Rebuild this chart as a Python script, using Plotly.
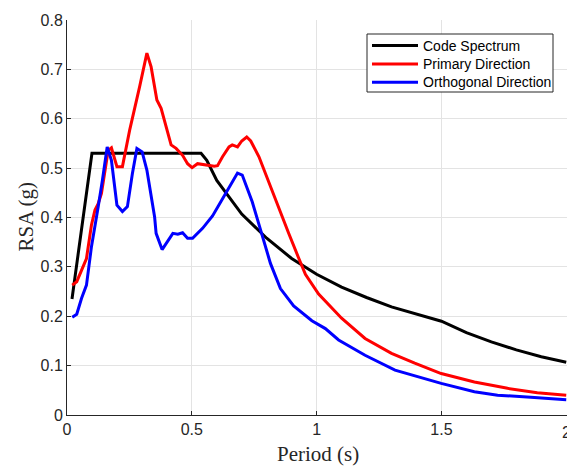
import plotly.graph_objects as go

# Code spectrum
code_T = [0.02, 0.10, 0.20, 0.30, 0.40, 0.50, 0.537, 0.56, 0.60, 0.70, 0.80, 0.90, 1.00, 1.10, 1.20, 1.30, 1.40, 1.50,
          1.60, 1.70, 1.80, 1.90, 2.00]
code_Sa = [0.235, 0.530, 0.530, 0.530, 0.530, 0.530, 0.530, 0.516, 0.475, 0.407, 0.358, 0.317, 0.285, 0.259, 0.238,
           0.219, 0.204, 0.190, 0.167, 0.148, 0.132, 0.118, 0.107]

# Primary direction
prim_T = [0.021, 0.039, 0.078, 0.098, 0.112, 0.125, 0.138, 0.165, 0.178, 0.200, 0.222, 0.251, 0.291, 0.320, 0.337,
          0.360, 0.377, 0.417, 0.437, 0.463, 0.483, 0.501, 0.523, 0.556, 0.590, 0.603, 0.623, 0.649, 0.662, 0.683,
          0.700, 0.720, 0.736, 0.769, 0.835, 0.888, 0.928, 0.955, 1.008, 1.061, 1.100, 1.194, 1.300, 1.393, 1.499,
          1.632, 1.765, 1.884, 2.000]
prim_Sa = [0.263, 0.270, 0.317, 0.385, 0.415, 0.428, 0.449, 0.536, 0.541, 0.503, 0.503, 0.577, 0.665, 0.733, 0.705,
           0.638, 0.621, 0.547, 0.540, 0.526, 0.509, 0.501, 0.509, 0.507, 0.504, 0.505, 0.523, 0.543, 0.547, 0.543,
           0.555, 0.563, 0.555, 0.523, 0.435, 0.368, 0.318, 0.285, 0.245, 0.217, 0.196, 0.155, 0.125, 0.105, 0.084,
           0.067, 0.054, 0.045, 0.040]

# Orthogonal direction
orth_T = [0.021, 0.039, 0.058, 0.078, 0.098, 0.118, 0.125, 0.142, 0.161, 0.178, 0.200, 0.222, 0.242, 0.262, 0.280,
          0.301, 0.320, 0.351, 0.357, 0.381, 0.404, 0.424, 0.444, 0.463, 0.483, 0.503, 0.543, 0.583, 0.636, 0.683,
          0.702, 0.742, 0.776, 0.815, 0.855, 0.908, 0.981, 1.035, 1.088, 1.194, 1.314, 1.406, 1.499, 1.632, 1.725,
          1.858, 2.000]
orth_Sa = [0.198, 0.204, 0.236, 0.263, 0.341, 0.395, 0.422, 0.476, 0.543, 0.516, 0.425, 0.412, 0.422, 0.489, 0.540,
           0.533, 0.496, 0.401, 0.368, 0.335, 0.354, 0.368, 0.366, 0.369, 0.358, 0.358, 0.378, 0.403, 0.449, 0.490,
           0.486, 0.432, 0.374, 0.307, 0.256, 0.221, 0.191, 0.175, 0.152, 0.121, 0.091, 0.078, 0.064, 0.047, 0.040,
           0.036, 0.031]

series_names = ["Code Spectrum", "Primary Direction", "Orthogonal Direction"]
series_colors = ["#000000", "#ff0000", "#0000ff"]

x_ticks = [0, 0.5, 1, 1.5, 2]
x_labels = ["0", "0.5", "1", "1.5", "2"]
y_ticks = [0, 0.1, 0.2, 0.3, 0.4, 0.5, 0.6, 0.7, 0.8]
y_labels = ["0", "0.1", "0.2", "0.3", "0.4", "0.5", "0.6", "0.7", "0.8"]

fig = go.Figure()
for xs, ys, name, color in zip([code_T, prim_T, orth_T], [code_Sa, prim_Sa, orth_Sa], series_names, series_colors):
    fig.add_trace(go.Scatter(x=xs, y=ys, mode="lines", name=name, showlegend=False,
                             line=dict(color=color, width=3)))

tick_font = dict(family="Liberation Sans, Arial", size=16, color="#262626")
axis_common = dict(showgrid=True, gridcolor="#e3e3e3", gridwidth=1, zeroline=False, automargin=False,
                   showline=True, linecolor="#262626", linewidth=1, ticks="inside", ticklen=4,
                   tickcolor="#262626", tickfont=tick_font)

serif = "Liberation Serif, Times New Roman"
sans = "Liberation Sans, Arial"
W, H, L, R, T, B = 567, 468, 67, 0, 20, 53
pw, ph = W - L - R, H - T - B


def px(x):
    return (x - L) / pw


def py(y):
    return (H - B - y) / ph


shapes = [dict(type="rect", xref="paper", yref="paper", x0=px(367), x1=px(553), y0=py(92), y1=py(34),
               line=dict(color="#262626", width=1), fillcolor="white", layer="above")]
annotations = [
    dict(text="Period (s)", x=px(318), y=py(454), xref="paper", yref="paper",
         xanchor="center", yanchor="middle", showarrow=False,
         font=dict(family=serif, size=21, color="#262626")),
    dict(text="RSA (g)", x=px(25), y=0.5, xref="paper", yref="paper",
         xanchor="center", yanchor="middle", showarrow=False, textangle=-90,
         font=dict(family=serif, size=21, color="#262626")),
    # last x tick label, partly cut by the figure edge as in the reference
    dict(text=x_labels[-1], x=x_ticks[-1], xref="x", y=py(432), yref="paper",
         xanchor="center", yanchor="middle", showarrow=False, font=tick_font),
]
row_y = [45.5, 64, 82.3]
for name, color, ry in zip(series_names, series_colors, row_y):
    shapes.append(dict(type="line", xref="paper", yref="paper", x0=px(372), x1=px(418), y0=py(ry), y1=py(ry),
                       line=dict(color=color, width=3), layer="above"))
    annotations.append(dict(text=name, x=px(421), y=py(ry), xref="paper", yref="paper",
                            xanchor="left", yanchor="middle", showarrow=False,
                            font=dict(family=sans, size=14, color="#000000")))

fig.update_layout(
    width=W, height=H,
    margin=dict(l=L, r=R, t=T, b=B),
    paper_bgcolor="white", plot_bgcolor="white",
    showlegend=False,
    xaxis=dict(range=[0, 2.003], tickvals=x_ticks, ticktext=x_labels, **axis_common),
    yaxis=dict(range=[0, 0.8], tickvals=y_ticks, ticktext=y_labels, **axis_common),
    shapes=shapes,
    annotations=annotations,
)

fig.write_html("out.html", config={"displayModeBar": False},
               post_script="document.body.style.margin='0';document.body.style.overflow='hidden';")
